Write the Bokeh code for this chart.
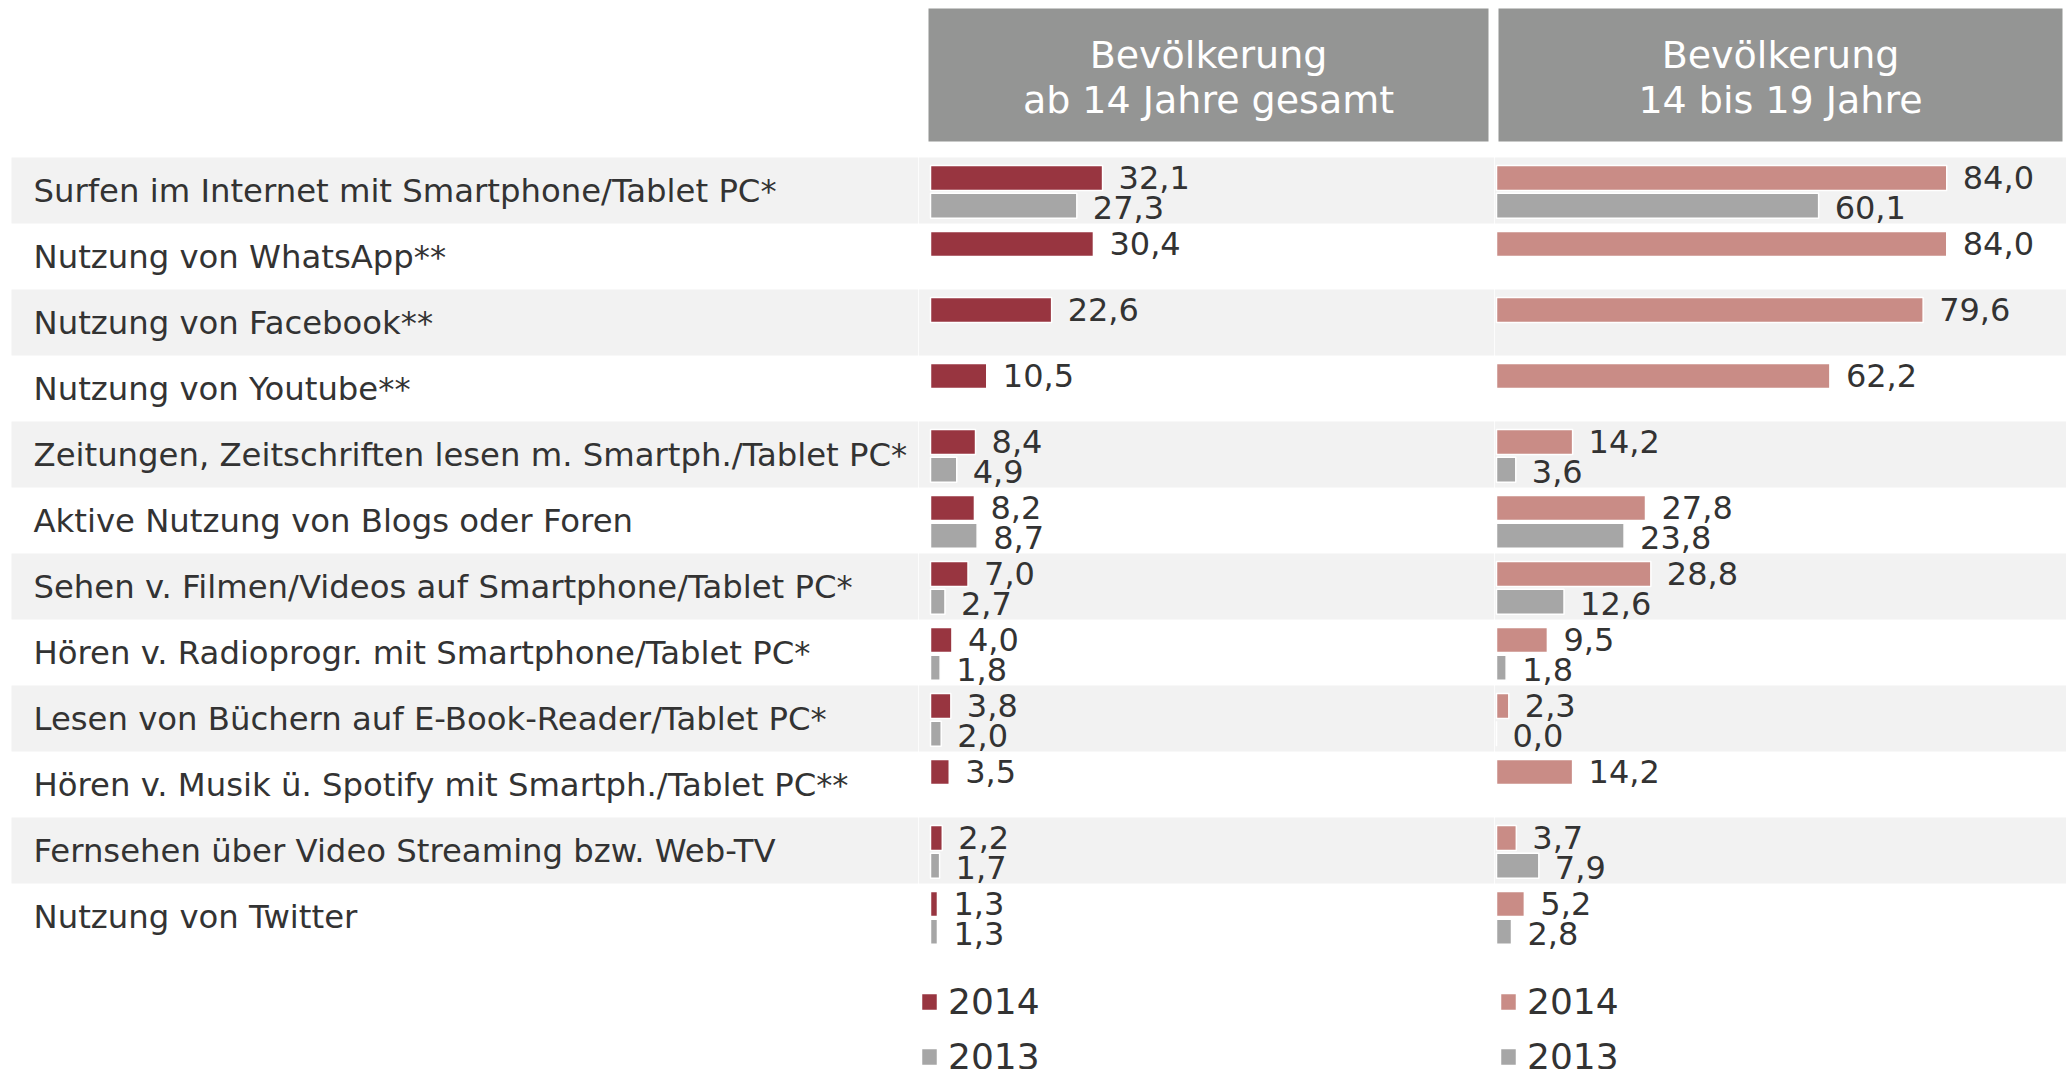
import math
from bokeh.plotting import figure
from bokeh.layouts import row
from bokeh.models import Range1d, BoxAnnotation, Label, ColumnDataSource, Legend, LegendItem
from bokeh.embed import file_html
from bokeh.resources import INLINE

# ---------------- data ----------------
categories = [
    "Surfen im Internet mit Smartphone/Tablet PC*",
    "Nutzung von WhatsApp**",
    "Nutzung von Facebook**",
    "Nutzung von Youtube**",
    "Zeitungen, Zeitschriften lesen m. Smartph./Tablet PC*",
    "Aktive Nutzung von Blogs oder Foren",
    "Sehen v. Filmen/Videos auf Smartphone/Tablet PC*",
    "Hören v. Radioprogr. mit Smartphone/Tablet PC*",
    "Lesen von Büchern auf E-Book-Reader/Tablet PC*",
    "Hören v. Musik ü. Spotify mit Smartph./Tablet PC**",
    "Fernsehen über Video Streaming bzw. Web-TV",
    "Nutzung von Twitter",
]
NA = float("nan")
gesamt_2014 = [32.1, 30.4, 22.6, 10.5, 8.4, 8.2, 7.0, 4.0, 3.8, 3.5, 2.2, 1.3]
gesamt_2013 = [27.3, NA, NA, NA, 4.9, 8.7, 2.7, 1.8, 2.0, NA, 1.7, 1.3]
jugend_2014 = [84.0, 84.0, 79.6, 62.2, 14.2, 27.8, 28.8, 9.5, 2.3, 14.2, 3.7, 5.2]
jugend_2013 = [60.1, NA, NA, NA, 3.6, 23.8, 12.6, 1.8, 0.0, NA, 7.9, 2.8]
years = ["2014", "2013"]
panel_titles = [["Bevölkerung", "ab 14 Jahre gesamt"], ["Bevölkerung", "14 bis 19 Jahre"]]

# ---------------- style / layout ----------------
FONT = "DejaVu Sans"
TEXT = "#333333"
DARK_RED = "#983540"
LIGHT_RED = "#c98c86"
GREY_BAR = "#a6a6a6"
HEAD_GREY = "#949594"
BAND = "#f2f2f2"

H = 1069
ROW_PX = 66.0
ROW0_CENTER = 190.0
SCALE = 5.36  # px per percentage point
W_A, W_B, W_C = 918, 576, 572
ZERO_B, ZERO_C = 12, 2


def ry(py):
    return (py - ROW0_CENTER) / ROW_PX


y_range = Range1d(start=ry(H), end=ry(0))


def make_fig(width, x_range):
    p = figure(width=width, height=H, x_range=x_range, y_range=y_range,
               output_backend="svg", toolbar_location=None, tools="",
               x_axis_location=None, y_axis_location=None, min_border=0)
    p.grid.visible = False
    p.outline_line_color = None
    p.background_fill_color = "white"
    p.border_fill_color = "white"
    return p


def add_bands(p, left=None):
    for i in range(0, len(categories), 2):
        kw = dict(top=i - 0.5, bottom=i + 0.5, fill_color=BAND, fill_alpha=1,
                  line_color=None, level="underlay")
        if left is not None:
            kw["left"] = left
        p.add_layout(BoxAnnotation(**kw))


def fmt(v):
    return f"{v:.1f}".replace(".", ",")


# ---------------- label column ----------------
pa = make_fig(W_A, Range1d(0, W_A))
add_bands(pa, left=11)
src_cat = ColumnDataSource(dict(y=[i + 0.01 for i in range(len(categories))], t=categories))
pa.text(x=33, y="y", text="t", source=src_cat, text_color=TEXT, text_font_size="32.3px",
        text_baseline="middle", text_align="left", text_font={"value": FONT})


def make_panel(width, zero_px, v14, v13, col14, title, box_px, text_px, legend_px):
    p = make_fig(width, Range1d(-zero_px / SCALE, (width - zero_px) / SCALE))
    add_bands(p)

    def X(px):
        return (px - zero_px) / SCALE

    p.add_layout(BoxAnnotation(left=X(box_px[0]), right=X(box_px[1]), top=ry(8), bottom=ry(141),
                               fill_color=HEAD_GREY, fill_alpha=1, line_color=None))
    for line, mid in zip(title, [54, 99]):
        p.add_layout(Label(x=X(text_px), y=ry(mid), text=line, text_align="center",
                           text_baseline="middle", text_color="white",
                           text_font_size="38px", text_font=FONT))

    renderers = []
    for vals, off, loff, color in [(v14, -0.19, -0.01, col14), (v13, 0.23, 0.02, GREY_BAR)]:
        ys = [i + off for i in range(len(vals))]
        src = ColumnDataSource(dict(y=ys, v=vals))
        r = p.hbar(y="y", left=0, right="v", height=0.38, source=src,
                   fill_color=color, line_color="white", line_width=1.5)
        renderers.append(r)
        lab = [(i + off + loff, v, fmt(v)) for i, v in enumerate(vals) if not math.isnan(v)]
        lsrc = ColumnDataSource(dict(y=[a[0] for a in lab], v=[a[1] for a in lab], t=[a[2] for a in lab]))
        p.text(x="v", y="y", text="t", source=lsrc, x_offset=16, text_color=TEXT,
               text_font_size="32px", text_baseline="middle", text_align="left",
               text_font={"value": FONT})

    legend = Legend(items=[LegendItem(label=years[0], renderers=[renderers[0]]),
                           LegendItem(label=years[1], renderers=[renderers[1]])],
                    location=(legend_px, -8), orientation="vertical",
                    glyph_width=20, glyph_height=21, label_standoff=9,
                    label_text_font_size="36px", label_text_font=FONT, label_text_color=TEXT,
                    label_height=21, spacing=14, padding=0, margin=0,
                    border_line_color=None, background_fill_alpha=0)
    p.add_layout(legend)
    return p


pb = make_panel(W_B, ZERO_B, gesamt_2014, gesamt_2013, DARK_RED, panel_titles[0],
                (10, 570), 290, 1)
pc = make_panel(W_C, ZERO_C, jugend_2014, jugend_2013, LIGHT_RED, panel_titles[1],
                (4, 568), 286, 4)

layout = row(pa, pb, pc, spacing=0)
open("out.html", "w").write(file_html(layout, INLINE))
